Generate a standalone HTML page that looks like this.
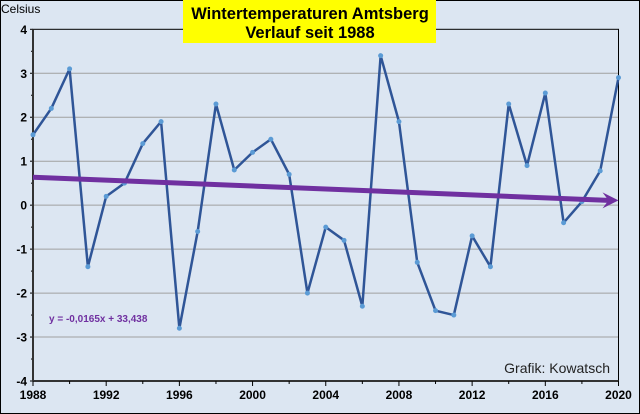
<!DOCTYPE html>
<html><head><meta charset="utf-8"><style>
body{margin:0;background:#fff}
svg{display:block;font-family:"Liberation Sans",sans-serif}
</style></head><body>
<svg width="640" height="414" viewBox="0 0 640 414">
<rect x="0.5" y="0.5" width="639" height="413" fill="#dce6f2" stroke="#000"/>
<g id="grid"></g>
<g id="axes"></g>
<g id="series"></g>
<rect x="183" y="0" width="253" height="43" fill="#ffff00"/>
<text x="310" y="19" text-anchor="middle" font-size="16.5" font-weight="bold">Wintertemperaturen Amtsberg</text>
<text x="310" y="38" text-anchor="middle" font-size="16.5" font-weight="bold">Verlauf seit 1988</text>
<text x="1" y="13" font-size="12">Celsius</text>
<text x="49" y="322" font-size="10" font-weight="bold" fill="#7030a0">y = -0,0165x + 33,438</text>
<text x="610" y="373" text-anchor="end" font-size="14" fill="#222">Grafik: Kowatsch</text>
</svg>
<script>
const years=[1988,1989,1990,1991,1992,1993,1994,1995,1996,1997,1998,1999,2000,2001,2002,2003,2004,2005,2006,2007,2008,2009,2010,2011,2012,2013,2014,2015,2016,2017,2018,2019,2020];
const temps=[1.6,2.2,3.1,-1.4,0.2,0.5,1.4,1.9,-2.8,-0.6,2.3,0.8,1.2,1.5,0.7,-2.0,-0.5,-0.8,-2.3,3.4,1.9,-1.3,-2.4,-2.5,-0.7,-1.4,2.3,0.9,2.55,-0.4,0.08,0.78,2.9];
const yTicks=[-4,-3,-2,-1,0,1,2,3,4];
const xTicks=[1988,1992,1996,2000,2004,2008,2012,2016,2020];
const trendSlope=-0.0165, trendIntercept=33.438;
const NS="http://www.w3.org/2000/svg";
const X0=33,X1=618.5,Y0=381,Y1=29.3;
const xs=v=>X0+(v-1988)/(2020-1988)*(X1-X0);
const ys=v=>Y0+(v+4)/8*(Y1-Y0);
function mk(t,a,p){const e=document.createElementNS(NS,t);for(const k in a)e.setAttribute(k,a[k]);p.appendChild(e);return e;}
const grid=document.getElementById('grid'),axes=document.getElementById('axes'),ser=document.getElementById('series');
yTicks.forEach(v=>{
 if(v>-4&&v<4){const l=mk('line',{x1:X0,x2:X1,y1:ys(v),y2:ys(v),stroke:'#a0a0a0','stroke-width':1},grid);
 
 }
 const t=mk('text',{x:X0-6,y:ys(v)+4.5,'text-anchor':'end','font-size':12,'font-weight':'bold'},axes);t.textContent=v;
 
 
 mk('line',{x1:X0-3,x2:X0,y1:ys(v),y2:ys(v),stroke:'#000'},axes);
 if(v<4)mk('line',{x1:X0-2,x2:X0,y1:ys(v+0.5),y2:ys(v+0.5),stroke:'#000'},axes);
});
const box=mk('rect',{x:X0,y:Y1,width:X1-X0,height:Y0-Y1,fill:'none',stroke:'#000','stroke-width':1},axes);


mk('line',{x1:X0,x2:X1,y1:Y0,y2:Y0,stroke:'#333','stroke-width':2},axes);
mk('line',{x1:X0,x2:X0,y1:Y1,y2:Y0,stroke:'#333','stroke-width':2},axes);
for(let y=1988;y<=2020;y+=2)mk('line',{x1:xs(y),x2:xs(y),y1:Y0,y2:Y0+(y%4==0?5:3),stroke:'#000'},axes);
xTicks.forEach(v=>{const t=mk('text',{x:xs(v),y:Y0+18,'text-anchor':'middle','font-size':12,'font-weight':'bold'},axes);t.textContent=v;
 
 });
const line=mk('polyline',{points:years.map((y,i)=>xs(y)+','+ys(temps[i])).join(' '),fill:'none',stroke:'#2f5597','stroke-width':2.5,'stroke-linejoin':'round'},ser);


years.forEach((y,i)=>{const c=mk('circle',{cx:xs(y),cy:ys(temps[i]),r:2.5,fill:'#5b9bd5'},ser);
 
 });
const t0=trendSlope*1988+trendIntercept,t1=trendSlope*2020+trendIntercept;
const tr=mk('line',{x1:xs(1988),y1:ys(t0),x2:xs(2020)-10,y2:ys(t1),stroke:'#7030a0','stroke-width':5},ser);


const ex=xs(2020),ey=ys(t1);
const ah=mk('polygon',{points:`${ex},${ey} ${ex-16},${ey-8} ${ex-10},${ey} ${ex-16},${ey+8}`,fill:'#7030a0'},ser);


</script>
</body></html>
